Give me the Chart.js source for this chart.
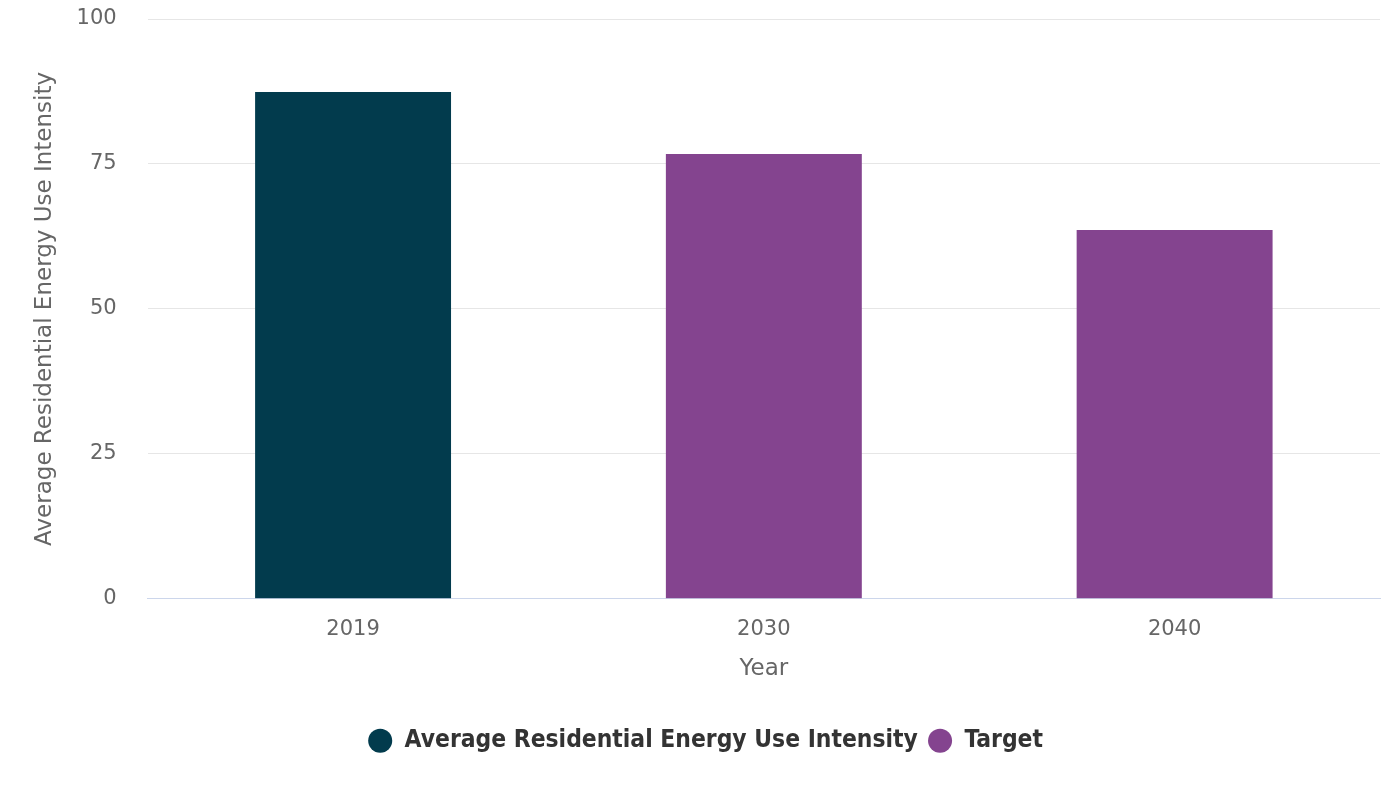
<!DOCTYPE html>
<html>
<head>
<meta charset="utf-8">
<script src="https://cdn.jsdelivr.net/npm/chart.js@4"></script>
<style>
html,body{margin:0;padding:0;background:#fff;}
#wrap{width:1400px;height:800px;position:relative;}
</style>
</head>
<body>
<div id="wrap"><canvas id="c" width="1400" height="800"></canvas></div>
<script>
const categories = ['2019', '2030', '2040'];
const euiValues = [87.4, null, null];
const targetValues = [null, 76.7, 63.6];
const yTicks = [0, 25, 50, 75, 100];
const seriesNames = ['Average Residential Energy Use Intensity', 'Target'];

const ctx = document.getElementById('c');
new Chart(ctx, {
  type: 'bar',
  data: {
    labels: categories,
    datasets: [
      { label: seriesNames[0], data: euiValues, backgroundColor: '#023b4d', borderWidth: 0 },
      { label: seriesNames[1], data: targetValues, backgroundColor: '#84448f', borderWidth: 0 }
    ]
  },
  options: {
    responsive: false,
    animation: false,
    devicePixelRatio: 1,
    layout: { padding: { top: 19, right: 20, left: 31, bottom: 37 } },
    datasets: { bar: { grouped: false, categoryPercentage: 1, barPercentage: 0.477 } },
    plugins: {
      tooltip: { enabled: false },
      legend: {
        position: 'bottom',
        labels: {
          usePointStyle: true,
          pointStyle: 'circle',
          boxWidth: 25,
          boxHeight: 17,
          padding: 10,
          color: '#333333',
          font: { family: 'DejaVu Sans Condensed', size: 24.4, weight: 'bold' }
        }
      }
    },
    scales: {
      x: {
        grid: { display: false, drawTicks: true, tickLength: 8 },
        border: { display: true, color: '#ccd6eb', width: 1 },
        ticks: { color: '#666666', padding: 10, font: { family: 'DejaVu Sans', size: 21 } },
        title: { display: true, text: 'Year', color: '#666666', padding: { top: 3, bottom: 36 }, font: { family: 'DejaVu Sans', size: 23 } }
      },
      y: {
        min: 0, max: 100,
        afterBuildTicks: (axis) => { axis.ticks = yTicks.map(v => ({ value: v })); },
        grid: {
          drawTicks: true,
          tickLength: 31,
          tickColor: 'rgba(0,0,0,0)',
          color: (c) => c.tick && c.tick.value === 0 ? '#ccd6eb' : '#e6e6e6',
          lineWidth: 1
        },
        border: { display: false },
        ticks: { color: '#666666', padding: 0, font: { family: 'DejaVu Sans', size: 21 } },
        title: { display: true, text: seriesNames[0], color: '#666666', padding: { top: 0, bottom: 18 }, font: { family: 'DejaVu Sans', size: 23 } }
      }
    }
  }
});
</script>
</body>
</html>
